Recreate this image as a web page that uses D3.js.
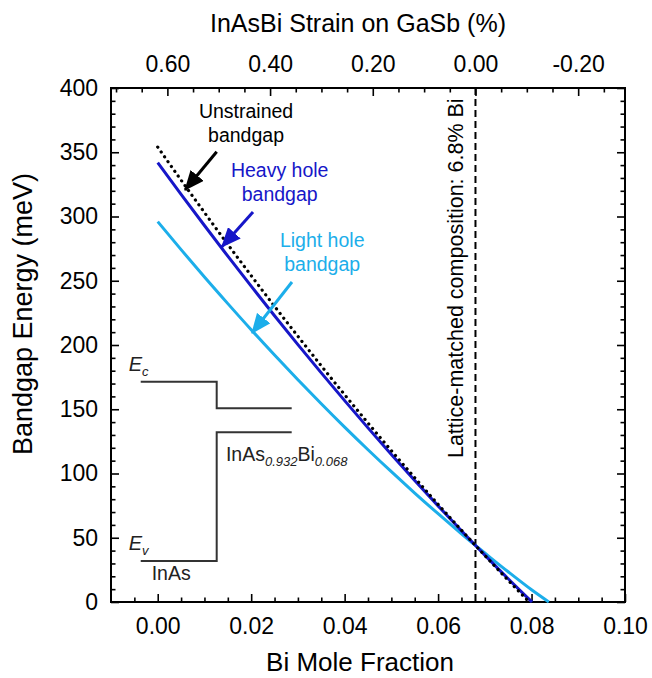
<!DOCTYPE html>
<html>
<head>
<meta charset="utf-8">
<script src="https://cdn.jsdelivr.net/npm/d3@7"></script>
<style>
  html, body { margin: 0; padding: 0; background: #fff; }
  svg { display: block; font-family: Arial, "Liberation Sans", sans-serif; }
</style>
</head>
<body>
<svg id="chart" width="652" height="678"></svg>
<script>
// Bi mole fraction sampled along each curve
const biFraction = [0, 0.005, 0.01, 0.015, 0.02, 0.025, 0.03, 0.035, 0.04, 0.045, 0.05, 0.055, 0.06, 0.065, 0.068, 0.07, 0.075];

// Bandgap energies (meV)
const unstrained = [354, 328.3, 303.1, 278.3, 254.0, 230.1, 206.8, 183.8, 161.3, 139.3, 117.8, 96.7, 76.0, 55.9, 44.0, 36.2, 16.9];
const heavyHole  = [342, 317.3, 293.0, 269.1, 245.8, 222.8, 200.3, 178.3, 156.7, 135.5, 114.8, 94.6, 74.8, 55.4, 44.0, 36.5, 18.1];
const lightHole  = [296, 274.2, 252.9, 232.2, 211.9, 192.2, 173.0, 154.3, 136.1, 118.5, 101.4, 84.8, 68.7, 53.1, 44.0, 38.1, 23.5];

// Where each curve reaches zero
const unstrainedEnd = [0.0795, 0];
const heavyHoleEnd  = [0.0801, 0];
const lightHoleEnd  = [0.0837, 0];
const lightHoleTail = [0.08, 9.5];

// Axis ticks
const xTicks = [0, 0.02, 0.04, 0.06, 0.08, 0.10];
const yTicks = [0, 50, 100, 150, 200, 250, 300, 350, 400];
const strainTicks = [0.6, 0.4, 0.2, 0.0, -0.2];

// Lattice matching
const latticeMatchedBi = 0.068;
const strainPerBi = 9.1;   // % strain per unit Bi fraction

const m = { left: 111, right: 625, top: 88, bottom: 602 };

const svg = d3.select("#chart");

const x = d3.scaleLinear().domain([-0.01, 0.10]).range([m.left, m.right]);
const y = d3.scaleLinear().domain([0, 400]).range([m.bottom, m.top]);
const strainOf = b => (latticeMatchedBi - b) * strainPerBi;
const xTop = d3.scaleLinear().domain([strainOf(-0.01), strainOf(0.10)]).range([m.left, m.right]);

const clr = { hh: "#1616c8", lh: "#1caeea", band: "#333" };

// ---------- axes ----------
const tickFont = "23px";
function styleAxis(g) {
  g.select(".domain").remove();
  g.selectAll("line").attr("stroke", "#000").attr("stroke-width", 1.6);
  g.selectAll("text").attr("font-size", tickFont).attr("fill", "#000")
    .attr("font-family", "Arial, 'Liberation Sans', sans-serif");
}

// bottom
const xMinor = d3.range(-0.005, 0.1001, 0.005).filter(v => !xTicks.some(t => Math.abs(t - v) < 1e-9));
svg.append("g").attr("transform", `translate(0,${m.bottom})`)
  .call(d3.axisBottom(x).tickValues(xTicks).tickSize(-8).tickPadding(16).tickFormat(d3.format(".2f")))
  .call(styleAxis);
svg.append("g").attr("transform", `translate(0,${m.bottom})`)
  .call(d3.axisBottom(x).tickValues(xMinor).tickSize(-4.5).tickFormat(""))
  .call(styleAxis);

// left
const yMinor = d3.range(10, 400, 10).filter(v => v % 50 !== 0);
svg.append("g").attr("transform", `translate(${m.left},0)`)
  .call(d3.axisLeft(y).tickValues(yTicks).tickSize(-8).tickPadding(13))
  .call(styleAxis);
svg.append("g").attr("transform", `translate(${m.left},0)`)
  .call(d3.axisLeft(y).tickValues(yMinor).tickSize(-4.5).tickFormat(""))
  .call(styleAxis);

// right (ticks only)
svg.append("g").attr("transform", `translate(${m.right},0)`)
  .call(d3.axisRight(y).tickValues(yTicks).tickSize(-8).tickFormat(""))
  .call(styleAxis);
svg.append("g").attr("transform", `translate(${m.right},0)`)
  .call(d3.axisRight(y).tickValues(yMinor).tickSize(-4.5).tickFormat(""))
  .call(styleAxis);

// top: strain
const sMinor = d3.range(-0.25, 0.7001, 0.05).filter(v => !strainTicks.some(t => Math.abs(t - v) < 1e-9));
svg.append("g").attr("transform", `translate(0,${m.top})`)
  .call(d3.axisTop(xTop).tickValues(strainTicks).tickSize(-8).tickPadding(16).tickFormat(d3.format(".2f")))
  .call(styleAxis);
svg.append("g").attr("transform", `translate(0,${m.top})`)
  .call(d3.axisTop(xTop).tickValues(sMinor).tickSize(-4.5).tickFormat(""))
  .call(styleAxis);
svg.selectAll("text").filter(function () { return this.textContent.startsWith("−"); })
  .text(function () { return this.textContent.replace("−", "-"); });

// frame
svg.append("rect").attr("x", m.left).attr("y", m.top)
  .attr("width", m.right - m.left).attr("height", m.bottom - m.top)
  .attr("fill", "none").attr("stroke", "#000").attr("stroke-width", 2);

// axis titles
svg.append("text").attr("x", 358).attr("y", 32).attr("text-anchor", "middle")
  .attr("font-size", "25px").text("InAsBi Strain on GaSb (%)");
svg.append("text").attr("x", 360).attr("y", 671).attr("text-anchor", "middle")
  .attr("font-size", "26px").text("Bi Mole Fraction");
svg.append("text").attr("transform", `translate(32,${(m.top + m.bottom) / 2 - 31}) rotate(-90)`)
  .attr("text-anchor", "middle").attr("font-size", "27px").text("Bandgap Energy (meV)");

// ---------- plot content ----------
const plot = svg.append("g");

// lattice-matched composition marker
plot.append("line")
  .attr("x1", x(latticeMatchedBi)).attr("x2", x(latticeMatchedBi))
  .attr("y1", y(400)).attr("y2", y(0))
  .attr("stroke", "#000").attr("stroke-width", 2).attr("stroke-dasharray", "7,4");
plot.append("text")
  .attr("transform", `translate(${x(latticeMatchedBi) - 12},${y(112)}) rotate(-90)`)
  .attr("font-size", "21.5px").text("Lattice-matched composition: 6.8% Bi");

const line = d3.line().x(d => x(d[0])).y(d => y(d[1])).curve(d3.curveMonotoneX);
const series = (vals, end, extra) => biFraction.map((b, i) => [b, vals[i]]).concat(extra ? [extra] : []).concat([end]);

plot.append("path").datum(series(lightHole, lightHoleEnd, lightHoleTail)).attr("d", line)
  .attr("fill", "none").attr("stroke", clr.lh).attr("stroke-width", 3);
plot.append("path").datum(series(heavyHole, heavyHoleEnd)).attr("d", line)
  .attr("fill", "none").attr("stroke", clr.hh).attr("stroke-width", 3);
plot.append("path").datum(series(unstrained, unstrainedEnd)).attr("d", line)
  .attr("fill", "none").attr("stroke", "#000").attr("stroke-width", 3.2)
  .attr("stroke-dasharray", "0.1,5.8").attr("stroke-linecap", "round");

// ---------- annotations ----------
const defs = svg.append("defs");
function arrowMarker(id, color) {
  defs.append("marker").attr("id", id).attr("viewBox", "0 0 20 17")
    .attr("refX", 19).attr("refY", 8.5).attr("markerWidth", 20).attr("markerHeight", 17)
    .attr("markerUnits", "userSpaceOnUse").attr("orient", "auto")
    .append("path").attr("d", "M0,0 L20,8.5 L0,17 Z").attr("fill", color);
}
arrowMarker("ah-black", "#000");
arrowMarker("ah-hh", clr.hh);
arrowMarker("ah-lh", clr.lh);

const arrows = [
  { from: [0.01262, 350.4], to: [0.00584, 320.6], color: "#000", id: "ah-black" },
  { from: [0.02039, 303.5], to: [0.01369, 276.3], color: clr.hh, id: "ah-hh" },
  { from: [0.02873, 249.0], to: [0.02017, 209.3], color: clr.lh, id: "ah-lh" }
];
arrows.forEach(a => {
  plot.append("line")
    .attr("x1", x(a.from[0])).attr("y1", y(a.from[1]))
    .attr("x2", x(a.to[0])).attr("y2", y(a.to[1]))
    .attr("stroke", a.color).attr("stroke-width", 3)
    .attr("marker-end", `url(#${a.id})`);
});

const notes = [
  { lines: ["Unstrained", "bandgap"], at: [0.0189, 377], color: "#000" },
  { lines: ["Heavy hole", "bandgap"], at: [0.0261, 331], color: clr.hh },
  { lines: ["Light hole", "bandgap"], at: [0.0352, 276], color: clr.lh }
];
notes.forEach(n => {
  const t = plot.append("text").attr("text-anchor", "middle").attr("font-size", "19.5px").attr("fill", n.color);
  n.lines.forEach((s, i) => t.append("tspan").attr("x", x(n.at[0])).attr("y", y(n.at[1]) + i * 24).text(s));
});

// band alignment sketch
const band = plot.append("g").attr("fill", "none").attr("stroke", clr.band).attr("stroke-width", 2);
const bandPath = d3.line().x(d => x(d[0])).y(d => y(d[1]));
const stepX = 0.01262, leftX = -0.00364, rightX = 0.02867;
band.append("path").attr("d", bandPath([[leftX, 171.4], [stepX, 171.4], [stepX, 150.7], [rightX, 150.7]]));
band.append("path").attr("d", bandPath([[rightX, 132.1], [stepX, 132.1], [stepX, 31.9], [leftX, 31.9]]));

const lab = plot.append("g").attr("fill", "#222");
const ec = lab.append("text").attr("x", x(-0.0062)).attr("y", y(180)).attr("font-size", "20px");
ec.append("tspan").attr("font-style", "italic").text("E");
ec.append("tspan").attr("font-style", "italic").attr("font-size", "13px").attr("dy", 5).text("c");
const ev = lab.append("text").attr("x", x(-0.0062)).attr("y", y(40.5)).attr("font-size", "20px");
ev.append("tspan").attr("font-style", "italic").text("E");
ev.append("tspan").attr("font-style", "italic").attr("font-size", "13px").attr("dy", 5).text("v");
lab.append("text").attr("x", x(-0.0013)).attr("y", y(17.1)).attr("font-size", "19.5px").text("InAs");
const alloy = lab.append("text").attr("x", x(0.0146)).attr("y", y(109.7)).attr("font-size", "19.5px");
alloy.append("tspan").text("InAs");
alloy.append("tspan").attr("font-style", "italic").attr("font-size", "13px").attr("dy", 5).text("0.932");
alloy.append("tspan").attr("dy", -5).text("Bi");
alloy.append("tspan").attr("font-style", "italic").attr("font-size", "13px").attr("dy", 5).text("0.068");
</script>
</body>
</html>
